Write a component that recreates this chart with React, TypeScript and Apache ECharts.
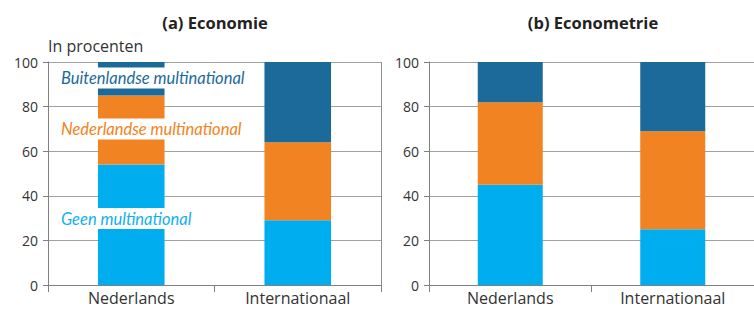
import React, { useEffect, useRef } from "react";
import * as echarts from "echarts";

const categories = ["Nederlands", "Internationaal"];
const seriesNames = ["Geen multinational", "Nederlandse multinational", "Buitenlandse multinational"];
const economieGeen = [54, 29];
const economieNederlandse = [31, 35];
const economieBuitenlandse = [15, 36];
const econometrieGeen = [45, 25];
const econometrieNederlandse = [37, 44];
const econometrieBuitenlandse = [18, 31];
const panelTitles = ["(a) Economie", "(b) Econometrie"];
const yTicks = [0, 20, 40, 60, 80, 100];
const yUnit = "In procenten";

const colors = ["#00AEEF", "#F28322", "#1C6A9A"];
const FONT = "'Open Sans', Lato, sans-serif";

export default function App() {
  const ref = useRef<HTMLDivElement>(null);
  useEffect(() => {
    document.body.style.margin = "0";
    const chart = echarts.init(ref.current!, undefined, { renderer: "svg" });
    const grids = [
      { left: 48, top: 62, width: 333, height: 223 },
      { left: 429, top: 62, width: 328, height: 223 },
    ];
    const data = [
      [economieGeen, economieNederlandse, economieBuitenlandse],
      [econometrieGeen, econometrieNederlandse, econometrieBuitenlandse],
    ];
    const series: any[] = [];
    data.forEach((panel, p) => {
      panel.forEach((vals, i) => {
        series.push({
          type: "bar",
          name: seriesNames[i],
          stack: "s" + p,
          xAxisIndex: p,
          yAxisIndex: p,
          barWidth: "40%",
          data: vals,
          itemStyle: { color: colors[i] },
        });
      });
    });
    const xAxis = grids.map((_, p) => ({
      type: "category",
      gridIndex: p,
      data: categories,
      axisLine: { show: true, lineStyle: { color: "#808080", width: 1 } },
      axisTick: { show: true, length: 7, interval: 0, lineStyle: { color: "#808080" } },
      axisLabel: { color: "#333", fontSize: 16, fontFamily: FONT, margin: 5 },
    }));
    const yAxis = grids.map((_, p) => ({
      type: "value",
      gridIndex: p,
      min: yTicks[0],
      max: yTicks[yTicks.length - 1],
      interval: yTicks[1] - yTicks[0],
      axisLine: { show: true, lineStyle: { color: "#808080", width: 1 } },
      axisTick: { show: true, length: 5, lineStyle: { color: "#808080" } },
      axisLabel: { color: "#333", fontSize: 14, fontFamily: FONT, margin: 10 },
      splitLine: { show: true, lineStyle: { color: "#a0a0a0", width: 1 } },
    }));
    const labelStyle = (text: string, y: number, color: string) => ({
      type: "text",
      x: 58,
      y,
      z: 100,
      style: {
        text,
        fill: color,
        fontSize: 16.5,
        fontStyle: "italic",
        fontFamily: "Lato, 'Open Sans', sans-serif",
        align: "left",
        verticalAlign: "middle",
        backgroundColor: "#fff",
        padding: [2, 3, 2, 3],
      },
    });
    const titleStyle = (text: string, x: number) => ({
      type: "text",
      x,
      y: 22,
      style: { text, fill: "#222", fontSize: 16.5, fontWeight: "bold", fontFamily: FONT, align: "center", verticalAlign: "middle" },
    });
    chart.setOption({
      animation: false,
      grid: grids,
      xAxis,
      yAxis,
      series,
      graphic: [
        titleStyle(panelTitles[0], 215),
        titleStyle(panelTitles[1], 593),
        {
          type: "text",
          x: 48,
          y: 46,
          style: { text: yUnit, fill: "#333", fontSize: 16, fontFamily: FONT, align: "left", verticalAlign: "middle" },
        },
        {
          type: "line",
          shape: { x1: 381.5, y1: 62, x2: 381.5, y2: 292 },
          style: { stroke: "#909090", lineWidth: 1 },
        },
        labelStyle(seriesNames[2], 78, "#1C6A9A"),
        labelStyle(seriesNames[1], 129, "#F28322"),
        labelStyle(seriesNames[0], 218.5, "#13AEEF"),
      ],
    });
    return () => chart.dispose();
  }, []);
  return <div ref={ref} style={{ width: 754, height: 311 }} />;
}
